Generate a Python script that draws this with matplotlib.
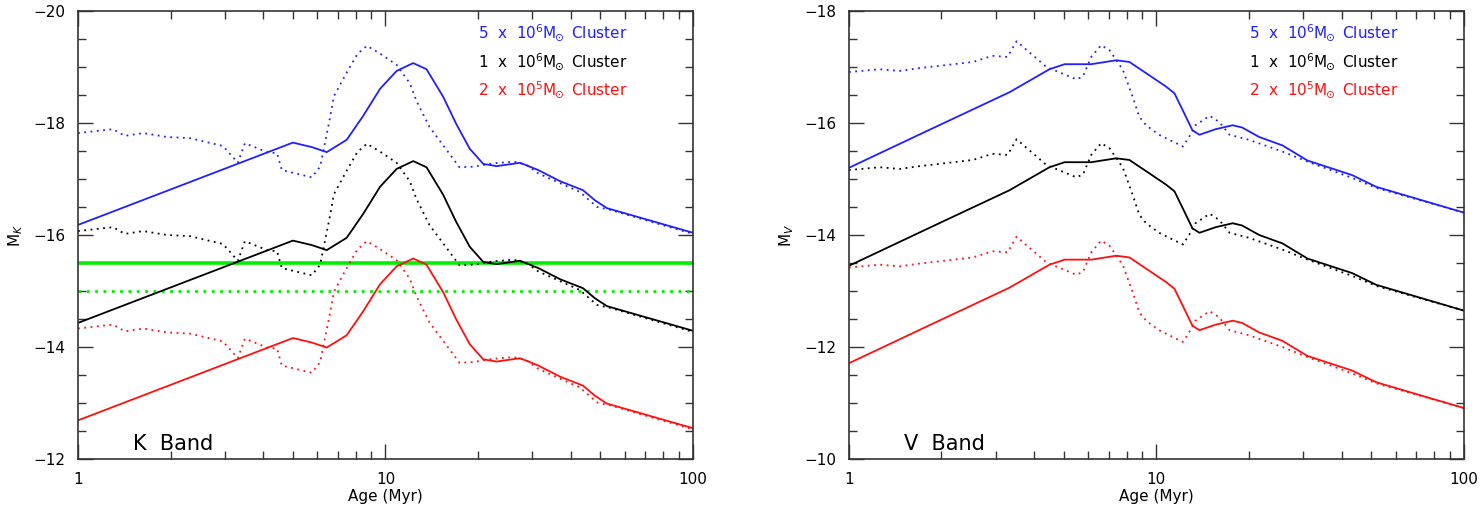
from matplotlib import pyplot as plt
from matplotlib.ticker import LogLocator, MultipleLocator, FixedLocator, FixedFormatter
import numpy as np


# K band, solid curves
age_k_solid = [1, 5.0, 5.76, 6.44, 7.48, 8.47, 9.6, 10.87, 12.31, 13.6, 15.4, 17.0, 18.8, 20.8,
               23.0, 27.4, 31.4, 37, 43.9, 48, 52.5, 100]
k_solid_5e6 = [-16.18, -17.65, -17.57, -17.48, -17.70, -18.13, -18.61, -18.93, -19.07, -18.96, -18.47,
               -17.98, -17.54, -17.27, -17.23, -17.29, -17.16, -16.96, -16.80, -16.62, -16.48, -16.04]
k_solid_1e6 = [-14.43, -15.90, -15.82, -15.73, -15.95, -16.38, -16.86, -17.18, -17.32, -17.21, -16.72,
               -16.23, -15.79, -15.52, -15.48, -15.54, -15.41, -15.21, -15.05, -14.87, -14.73, -14.29]
k_solid_2e5 = [-12.69, -14.16, -14.08, -13.99, -14.21, -14.64, -15.12, -15.44, -15.58, -15.47, -14.98,
               -14.49, -14.05, -13.78, -13.74, -13.80, -13.67, -13.47, -13.31, -13.13, -12.99, -12.55]

# K band, dotted curves
age_k_dot = [1, 1.30, 1.42, 1.63, 1.95, 2.31, 2.96, 3.31, 3.49, 4.12, 4.44, 4.6, 5.76, 6.13, 6.36, 6.6,
             6.8, 7.48, 8.1, 8.7, 9.6, 10.87, 12.0, 12.6, 13.9, 15.8, 17.4, 19.3, 22.4, 26.1, 28.8,
             31.4, 42.8, 48.8, 53.7, 100]
k_dot_5e6 = [-17.82, -17.89, -17.77, -17.82, -17.75, -17.73, -17.59, -17.29, -17.64, -17.48, -17.46,
             -17.16, -17.03, -17.22, -17.65, -18.09, -18.48, -18.90, -19.23, -19.38, -19.24, -19.04,
             -18.71, -18.40, -17.93, -17.52, -17.21, -17.22, -17.28, -17.31, -17.25, -17.10, -16.77,
             -16.50, -16.45, -16.02]
k_dot_1e6 = [-16.07, -16.14, -16.02, -16.07, -16.00, -15.98, -15.84, -15.54, -15.89, -15.73, -15.71,
             -15.41, -15.28, -15.47, -15.90, -16.34, -16.73, -17.15, -17.48, -17.63, -17.49, -17.29,
             -16.96, -16.65, -16.18, -15.77, -15.46, -15.47, -15.53, -15.56, -15.50, -15.35, -15.02,
             -14.75, -14.70, -14.27]
k_dot_2e5 = [-14.33, -14.40, -14.28, -14.33, -14.26, -14.24, -14.10, -13.80, -14.15, -13.99, -13.97,
             -13.67, -13.54, -13.73, -14.16, -14.60, -14.99, -15.41, -15.74, -15.89, -15.75, -15.55,
             -15.22, -14.91, -14.44, -14.03, -13.72, -13.73, -13.79, -13.82, -13.76, -13.61, -13.28,
             -13.01, -12.96, -12.53]

# V band, solid curves
age_v_solid = [1, 1.83, 3.33, 4.49, 5.03, 6.14, 7.40, 8.17, 9.26, 10.75, 11.45, 12.2, 13.1, 13.8,
               15.6, 17.7, 19.0, 21.6, 25.7, 31.0, 43.3, 51.9, 100]
v_solid_5e6 = [-15.20, -15.88, -16.55, -16.96, -17.05, -17.05, -17.12, -17.09, -16.89, -16.65, -16.53,
               -16.22, -15.87, -15.79, -15.89, -15.96, -15.92, -15.75, -15.60, -15.33, -15.07, -14.86,
               -14.40]
v_solid_1e6 = [-13.45, -14.13, -14.80, -15.21, -15.30, -15.30, -15.37, -15.34, -15.14, -14.90, -14.78,
               -14.47, -14.12, -14.04, -14.14, -14.21, -14.17, -14.00, -13.85, -13.58, -13.32, -13.11,
               -12.65]
v_solid_2e5 = [-11.71, -12.39, -13.06, -13.47, -13.56, -13.56, -13.63, -13.60, -13.40, -13.16, -13.04,
               -12.73, -12.38, -12.30, -12.40, -12.47, -12.43, -12.26, -12.11, -11.84, -11.58, -11.37,
               -10.91]

# V band, dotted curves
age_v_dot = [1, 1.26, 1.46, 1.70, 2.53, 2.93, 3.28, 3.51, 4.39, 5.49, 5.77, 6.14, 6.61, 7.04, 7.78,
             8.37, 8.8, 9.26, 10.2, 12.2, 12.8, 13.4, 14.9, 16.0, 17.3, 20.0, 25.7, 31.0, 43.3, 51.9, 100]
v_dot_5e6 = [-16.91, -16.96, -16.93, -16.98, -17.09, -17.20, -17.18, -17.46, -17.00, -16.78, -16.83,
             -17.18, -17.39, -17.30, -16.95, -16.47, -16.11, -15.96, -15.79, -15.58, -15.76, -15.96,
             -16.13, -16.02, -15.79, -15.70, -15.49, -15.31, -15.02, -14.84, -14.40]
v_dot_1e6 = [-15.16, -15.21, -15.18, -15.23, -15.34, -15.45, -15.43, -15.71, -15.25, -15.03, -15.08,
             -15.43, -15.64, -15.55, -15.20, -14.72, -14.36, -14.21, -14.04, -13.83, -14.01, -14.21,
             -14.38, -14.27, -14.04, -13.95, -13.74, -13.56, -13.27, -13.09, -12.65]
v_dot_2e5 = [-13.42, -13.47, -13.44, -13.49, -13.60, -13.71, -13.69, -13.97, -13.51, -13.29, -13.34,
             -13.69, -13.90, -13.81, -13.46, -12.98, -12.62, -12.47, -12.30, -12.09, -12.27, -12.47,
             -12.64, -12.53, -12.30, -12.21, -12.00, -11.82, -11.53, -11.35, -10.91]

# K band limits (green lines)
k_limit_solid = -15.5
k_limit_dot = -15.0

legend_labels = [r'5  x  10$^6\mathrm{M}_{\!\!\odot}$ Cluster', r'1  x  10$^6\mathrm{M}_{\!\!\odot}$ Cluster',
                 r'2  x  10$^5\mathrm{M}_{\!\!\odot}$ Cluster']
colors = ['#2020ff', 'black', '#ff1010']


def style_axes(ax, ylim, yticks, ylabel, band):
    ax.set_xscale('log')
    ax.set_xlim(1, 100)
    ax.set_ylim(ylim)
    ax.yaxis.set_major_locator(FixedLocator(yticks))
    ax.yaxis.set_major_formatter(FixedFormatter(['\u2212%d' % abs(t) for t in yticks]))
    ax.yaxis.set_minor_locator(MultipleLocator(0.5))
    ax.xaxis.set_major_locator(FixedLocator([1, 10, 100]))
    ax.xaxis.set_major_formatter(FixedFormatter(['1', '10', '100']))
    ax.xaxis.set_minor_locator(LogLocator(base=10, subs=np.arange(2, 10)))
    ax.xaxis.set_minor_formatter(plt.NullFormatter())
    ax.tick_params(which='both', direction='in', top=True, right=True, labelsize=11, color='#333333')
    ax.tick_params(which='major', length=11, width=1, pad=9)
    ax.tick_params(which='minor', length=6, width=1)
    for s in ax.spines.values():
        s.set_linewidth(1.2)
        s.set_color('#333333')
    ax.set_xlabel('Age (Myr)', fontsize=11, labelpad=2)
    ax.set_ylabel(ylabel, fontsize=11, labelpad=6)
    ax.text(0.09, 0.012, band, transform=ax.transAxes, fontsize=15, ha='left', va='bottom')
    for i, (lab, c) in enumerate(zip(legend_labels, colors)):
        ax.text(0.65, 0.951 - i * 0.063, lab, transform=ax.transAxes, color=c, fontsize=11,
                ha='left', va='center')


fig = plt.figure(figsize=(14.8, 5.12), dpi=100)
ax1 = fig.add_axes([0.0527, 0.1035, 0.4155, 0.875])
ax2 = fig.add_axes([0.5736, 0.1035, 0.4155, 0.875])

# left: K band
ax1.axhline(k_limit_solid, color='#00ee00', lw=2.6)
ax1.axhline(k_limit_dot, color='#00ee00', lw=2.0, ls=(0, (1, 2)))
for y, c in zip([k_solid_5e6, k_solid_1e6, k_solid_2e5], colors):
    ax1.plot(age_k_solid, y, color=c, lw=1.3)
for y, c in zip([k_dot_5e6, k_dot_1e6, k_dot_2e5], colors):
    ax1.plot(age_k_dot, y, color=c, lw=1.3, ls=(0, (1, 2.5)))
style_axes(ax1, (-12, -20), [-20, -18, -16, -14, -12], r'M$_K$', 'K  Band')

# right: V band
for y, c in zip([v_solid_5e6, v_solid_1e6, v_solid_2e5], colors):
    ax2.plot(age_v_solid, y, color=c, lw=1.3)
for y, c in zip([v_dot_5e6, v_dot_1e6, v_dot_2e5], colors):
    ax2.plot(age_v_dot, y, color=c, lw=1.3, ls=(0, (1, 2.5)))
style_axes(ax2, (-10, -18), [-18, -16, -14, -12, -10], r'M$_V$', 'V  Band')

plt.savefig('out.png', dpi=100)
